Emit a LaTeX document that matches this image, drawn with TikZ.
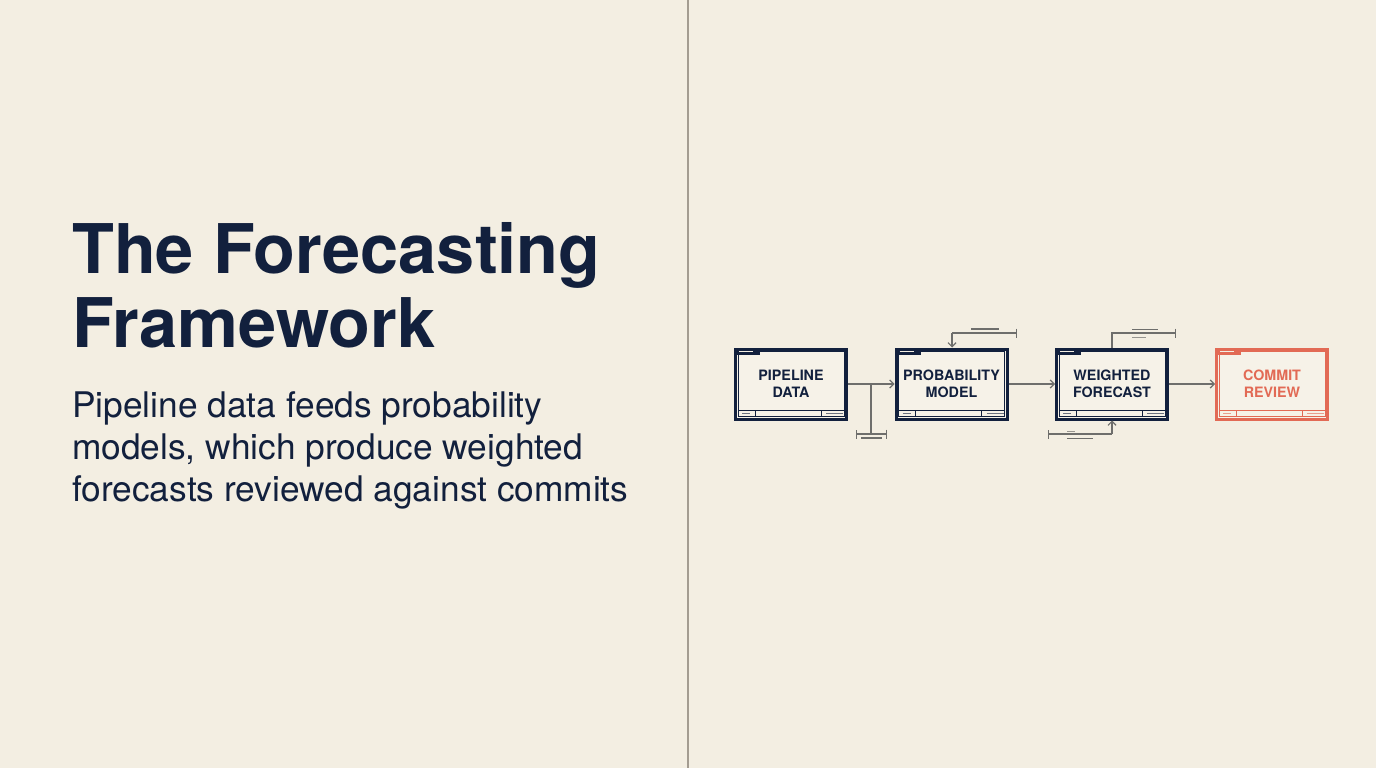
\documentclass[tikz,border=0pt]{standalone}
\usepackage{fontspec}
\setmainfont{TeX Gyre Heros}
\usetikzlibrary{arrows.meta}
\definecolor{bg}{HTML}{F3EEE2}
\definecolor{boxfill}{HTML}{F6F2E8}
\definecolor{navy}{HTML}{12203D}
\definecolor{coral}{HTML}{E26A55}
\definecolor{conn}{HTML}{6E6E6C}
\definecolor{divider}{HTML}{A39C91}
\tikzset{
  title/.style={inner sep=0pt, text=navy, font=\bfseries\fontsize{68.5}{68}\selectfont, anchor=base west},
  sub/.style={inner sep=0pt, text=navy, font=\fontsize{35.3}{40}\selectfont, anchor=base west},
  box/.style={draw=#1, line width=3pt, fill=boxfill, minimum width=111pt, minimum height=70pt,
    inner sep=0pt, align=center, font=\bfseries\fontsize{14.3}{17}\selectfont, text=#1},
  cline/.style={draw=conn, line width=1.2pt},
  arr/.style={cline, -{Straight Barb[length=4pt,width=8pt]}},
  mytick/.tip={Bar[width=9pt]},
}
\newcommand\boxdeco[2]{%
  \draw[#2, line width=0.7pt] ([shift={(4,4)}]#1.north west) rectangle ([shift={(-4,-4)}]#1.south east);
  \fill[#2] (#1.north west) rectangle ([shift={(26,7)}]#1.north west);
  \draw[bg, line width=0.8pt] ([shift={(5,4)}]#1.north west) -- ++(14,0);
  \draw[#2, line width=0.7pt] ([shift={(4,-10)}]#1.south west) -- ([shift={(-4,-10)}]#1.south east);
  \draw[#2, line width=0.7pt] ([shift={(21,-10)}]#1.south west) -- ([shift={(21,-4)}]#1.south west);
  \draw[#2, line width=0.7pt] ([shift={(-27,-10)}]#1.south east) -- ([shift={(-27,-4)}]#1.south east);
  \draw[#2!60!bg, line width=0.9pt] ([shift={(8,-7)}]#1.south west) -- ++(8,0);
  \draw[#2!60!bg, line width=0.9pt] ([shift={(-22,-7)}]#1.south east) -- ++(17,0);
}
\begin{document}
\begin{tikzpicture}[x=1pt,y=-1pt]
\useasboundingbox (0,0) rectangle (1376,768);
\fill[bg] (0,0) rectangle (1376,768);
\draw[divider, line width=2pt] (688,0) -- (688,768);

\node[title] (t1) at (72,273) {The Forecasting};
\node[title] (t2) at (72,347) {Framework};
\node[sub] (s1) at (72,417) {Pipeline data feeds probability};
\node[sub] (s2) at (72,459) {models, which produce weighted};
\node[sub] (s3) at (72,501) {forecasts reviewed against commits};

\node[box=navy] (b1) at (791,384) {PIPELINE\\DATA};
\node[box=navy] (b2) at (951.5,384) {PROBABILITY\\MODEL};
\node[box=navy] (b3) at (1112,384) {WEIGHTED\\FORECAST};
\node[box=coral] (b4) at (1272,384) {COMMIT\\REVIEW};
\boxdeco{b1}{navy}
\boxdeco{b2}{navy}
\boxdeco{b3}{navy}
\boxdeco{b4}{coral}

\draw[arr] (b1) -- (b2);
\draw[arr] (b2) -- (b3);
\draw[arr] (b3) -- (b4);

% branch below first arrow
\coordinate (j1) at (871,384);
\coordinate (j1b) at (871,434);
\coordinate (h1l) at (856,434);
\coordinate (h1r) at (887,434);
\draw[cline] (j1) -- (j1b);
\draw[cline, mytick-mytick] (h1l) -- (h1r);
\draw[conn, line width=2pt] (861,438) -- (882,438);

% feedback into box 2 top
\coordinate (p2a) at (1017,333);
\coordinate (p2b) at (952,333);
\draw[cline, mytick-] (p2a) -- (p2b);
\draw[arr] (p2b) -- (p2b |- b2.north);
\draw[conn, line width=1.4pt] (971,329) -- (999,329);

% box 3 top
\coordinate (p3a) at (1112,333);
\coordinate (p3b) at (1176,333);
\draw[cline, -mytick] (b3.north) -- (p3a) -- (p3b);
\draw[conn, line width=1.2pt] (1132,329.5) -- (1158,329.5);
\draw[conn!70!bg, line width=0.8pt] (1132,337) -- (1146,337);

% box 3 bottom
\coordinate (p4a) at (1048,434);
\coordinate (p4b) at (1112,434);
\draw[cline, mytick-] (p4a) -- (p4b);
\draw[arr] (p4b) -- (b3.south);
\draw[conn!70!bg, line width=0.8pt] (1067,431) -- (1075,431);
\draw[conn, line width=1.2pt] (1067,438.5) -- (1093,438.5);
\end{tikzpicture}
\end{document}
